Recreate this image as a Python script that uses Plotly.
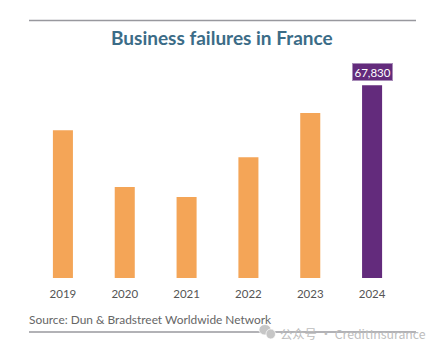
import plotly.graph_objects as go

years = ["2019", "2020", "2021", "2022", "2023", "2024"]
failures = [52000, 32000, 28500, 42500, 58000, 67830]
bar_colors = ["#F4A557", "#F4A557", "#F4A557", "#F4A557", "#F4A557", "#632B7C"]
W, H = 441, 352
L, R, T, B = 32, 38, 79, 74


def fx(x):
    return (x - L) / (W - L - R)


def fy(y):
    return (H - B - y) / (H - T - B)


fig = go.Figure(go.Bar(x=years, y=failures, marker=dict(color=bar_colors, line_width=0),
                       hoverinfo="skip"))
fig.update_layout(
    width=W, height=H, autosize=False,
    margin=dict(l=L, r=R, t=T, b=B),
    paper_bgcolor="white", plot_bgcolor="white",
    bargap=0.676, showlegend=False,
    font=dict(family="Lato", color="#555555"),
    xaxis=dict(type="category", categoryorder="array", categoryarray=years,
               showgrid=False, showline=False, ticks="", ticklabelstandoff=7,
               tickfont=dict(family="Lato", size=11.5, color="#555555")),
    yaxis=dict(range=[0, 70000], visible=False),
)
for y in (20.5, 332):
    fig.add_shape(type="line", xref="paper", yref="paper",
                  x0=fx(29), x1=fx(416), y0=fy(y), y1=fy(y),
                  line=dict(color="#98989E", width=1.5))
for x0, x1, y0, y1 in ((259, 271, 324.5, 335), (266, 275.5, 329, 339)):
    fig.add_shape(type="circle", xref="paper", yref="paper",
                  x0=fx(x0), x1=fx(x1), y0=fy(y0), y1=fy(y1),
                  fillcolor="#C6C6C6", line=dict(color="white", width=0.7))


def note(text, x, y, size, color, anchor="center", **kw):
    fig.add_annotation(text=text, xref="paper", yref="paper",
                       x=fx(x), y=fy(y),
                       xanchor=anchor, yanchor="middle", showarrow=False,
                       font=dict(family=kw.pop("family", "Lato"), size=size, color=color), **kw)


note("<b>Business failures in France</b>", 222, 37.5, 19, "#3B6C87")
note("Source: Dun &amp; Bradstreet Worldwide Network", 27, 319, 11.9, "#666666", anchor="left")
note("公众号 · CreditInsurance", 278, 333.5, 12.3, "#BDBDBD", anchor="left",
     family="Noto Sans CJK SC")
fig.add_annotation(x=5, y=failures[5], text=f"{failures[5]:,}", yref="y", xref="x",
                   showarrow=False, yanchor="bottom", yshift=4,
                   font=dict(family="Lato", size=11.5, color="white"),
                   bgcolor="#632B7C", bordercolor="#A88DB8", borderwidth=1, borderpad=1.5)
fig.write_html("out.html", config=dict(displayModeBar=False),
               post_script="document.body.style.margin='0';")
